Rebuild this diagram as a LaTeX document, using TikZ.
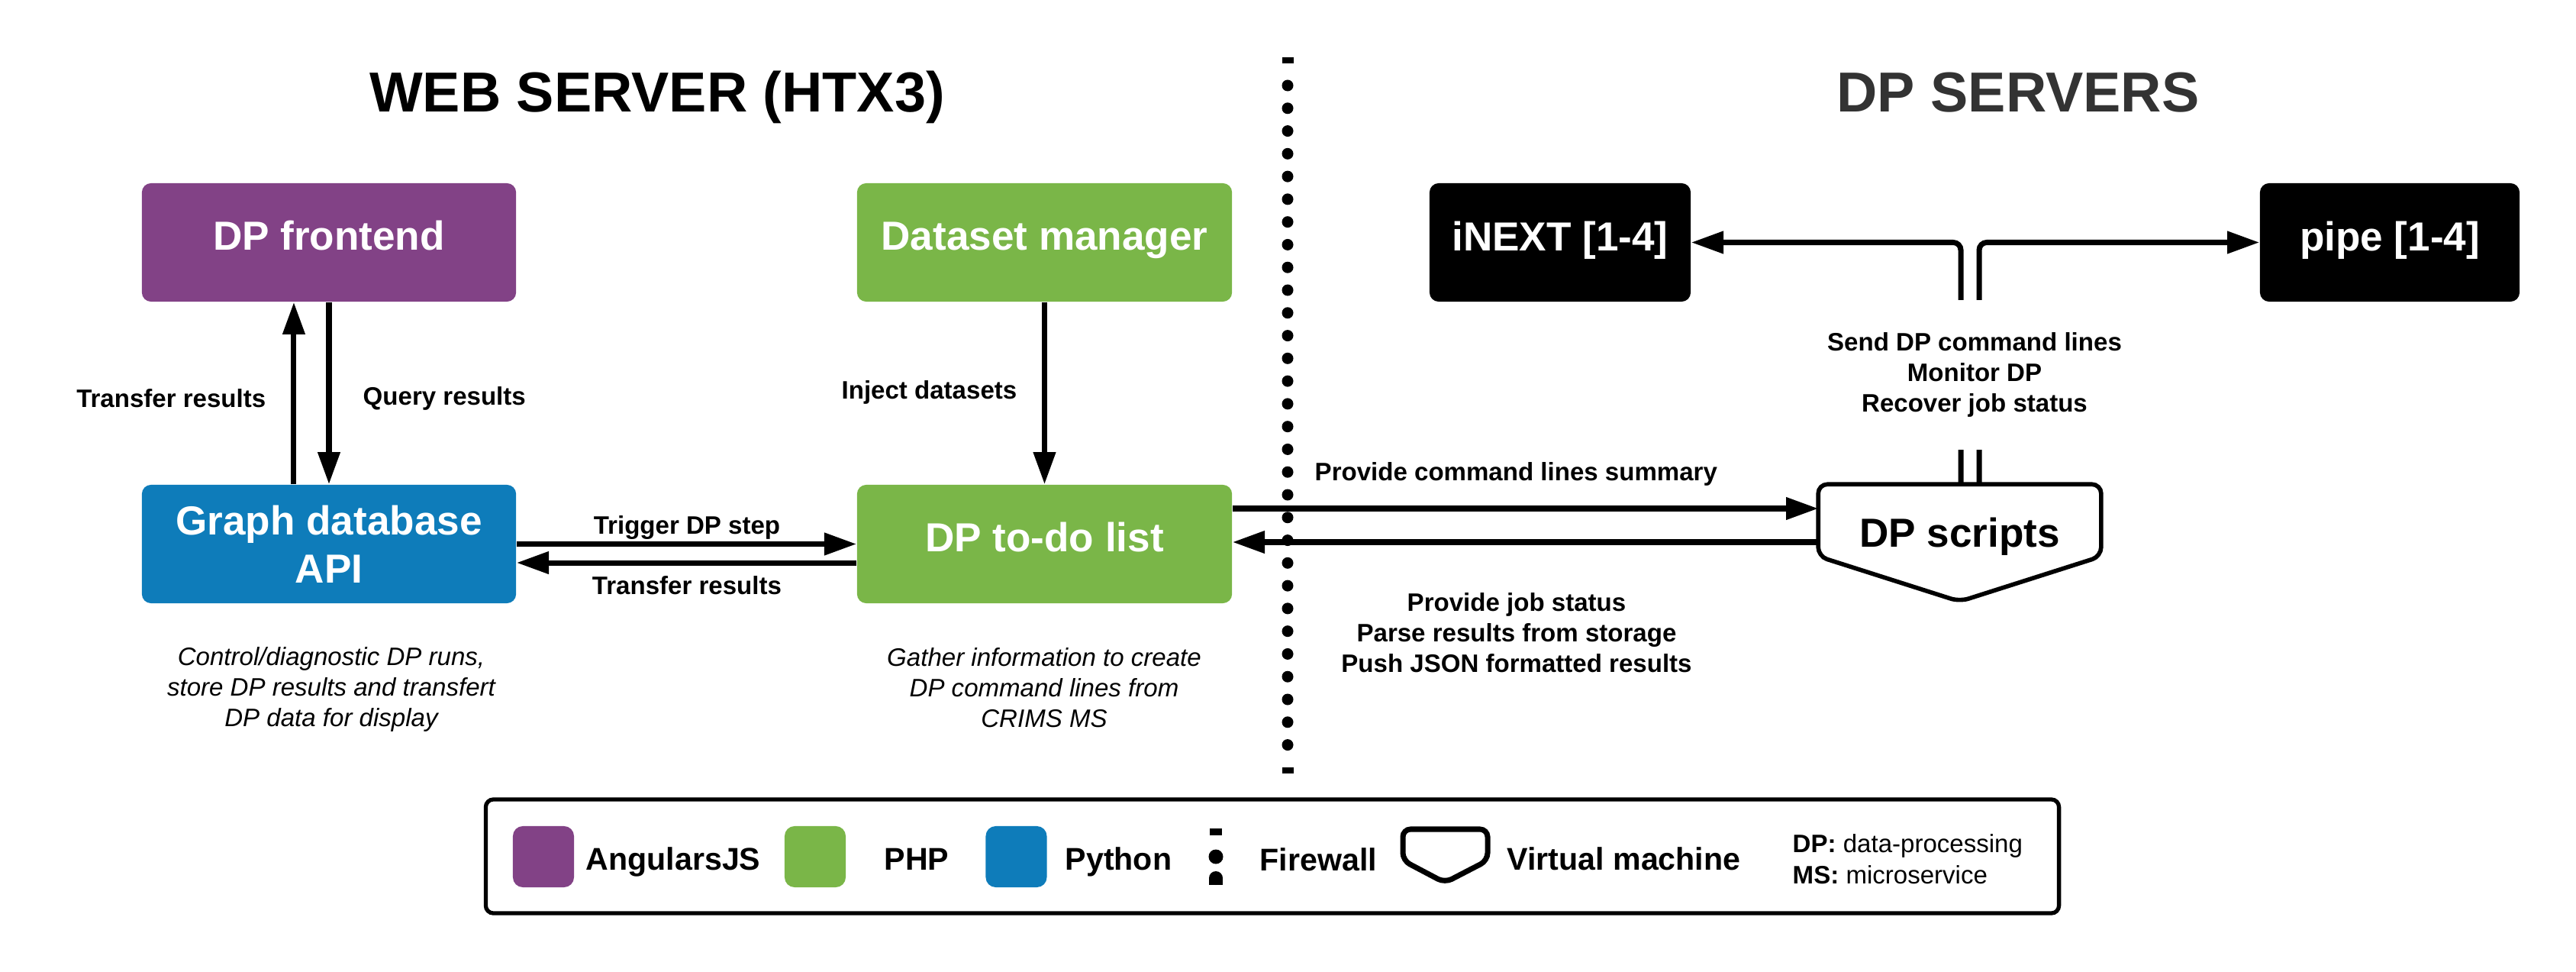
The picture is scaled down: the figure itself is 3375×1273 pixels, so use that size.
\documentclass[tikz,border=0pt]{standalone}
\usepackage{fontspec}
\setmainfont{Liberation Sans}
\usetikzlibrary{arrows.meta}
\definecolor{angpurple}{HTML}{824286}
\definecolor{phpgreen}{HTML}{7AB648}
\definecolor{pyblue}{HTML}{0E7CBA}
\definecolor{dpgray}{HTML}{333333}

\begin{document}
\begin{tikzpicture}[x=0.01cm, y=-0.01cm,
    box/.style={rounded corners=0.12cm, minimum height=1.55cm, text=white, align=center, font=\fontsize{15.1}{18}\selectfont\bfseries},
    arr/.style={line width=2pt, -{Triangle[length=12pt,width=8pt]}},
    lbl/.style={align=center, inner sep=0pt, font=\fontsize{9.4}{11.4}\selectfont\bfseries},
    note/.style={align=center, font=\fontsize{9.4}{11.4}\selectfont\itshape},
    title/.style={anchor=base, font=\fontsize{21}{25}\selectfont\bfseries},
    leg/.style={anchor=base west, inner sep=0pt, font=\fontsize{11.7}{14}\selectfont\bfseries},
    swatch/.style={rounded corners=0.13cm, minimum width=0.8cm, minimum height=0.8cm, inner sep=0pt}]
    \useasboundingbox (0,0) rectangle (3375,1273);

    \node[title] (webtitle) at (861,147) {WEB SERVER (HTX3)};
    \node[title, text=dpgray] (dptitle) at (2644,147) {DP SERVERS};

    \node[box, fill=angpurple, minimum width=4.9cm, text depth=0.55em] (front) at (431,317.5) {DP frontend};
    \node[box, fill=phpgreen, minimum width=4.91cm, text depth=0.45em] (dsm) at (1368.5,317.5) {Dataset manager};
    \node[box, fill=pyblue, minimum width=4.9cm, text depth=0pt] (gdb) at (431,712.5) {Graph database\\API};
    \node[box, fill=phpgreen, minimum width=4.91cm, text depth=0.55em] (todo) at (1368.5,712.5) {DP to-do list};
    \node[box, fill=black, minimum width=3.42cm, text depth=0.45em] (inext) at (2044,317.5) {iNEXT [1-4]};
    \node[box, fill=black, minimum width=3.4cm, text depth=0.45em] (pipe) at (3131,317.5) {pipe [1-4]};

    \node[minimum width=3.69cm, minimum height=0.93cm, inner sep=0pt] (scripts) at (2567.5,681.5) {};
    \draw[line width=1.6pt, fill=white, rounded corners=0.12cm] (scripts.north west) -- (scripts.north east) -- (scripts.south east) -- ([yshift=-0.59cm]scripts.south) -- (scripts.south west) -- cycle;
    \node[font=\fontsize{15.1}{18}\selectfont\bfseries] (scriptslbl) at ([yshift=-0.215cm]scripts.center) {DP scripts};

    % firewall
    \fill (1679.5,75) rectangle (1694.5,83);
    \draw[line width=0.15cm, line cap=round, dash pattern=on 0pt off 0.2976cm] (1687,112) -- (1687,1005);
    \fill (1679.5,1005) rectangle (1694.5,1013);

    \draw[arr] ([xshift=-0.46cm]gdb.north) -- ([xshift=-0.46cm]front.south);
    \draw[arr] (front.south) -- (gdb.north);
    \node[lbl, anchor=east] (uplbl) at (349,522) {Transfer results};
    \node[lbl, anchor=west] (querylbl) at (475,522) {Query results};

    \draw[arr] (dsm.south) -- (todo.north);
    \node[lbl, anchor=east] (injectlbl) at (1333,514) {Inject datasets};

    \draw[arr] (gdb.east) -- (todo.west);
    \draw[arr] ([yshift=-0.245cm]todo.west) -- ([yshift=-0.245cm]gdb.east);
    \node[lbl] (triggerlbl) at (900,691) {Trigger DP step};
    \node[lbl] (backlbl) at (900,767) {Transfer results};

    \draw[arr] (todo.east |- 0,666) -- (scripts.west |- 0,666);
    \draw[arr] (scripts.west |- 0,710) -- (todo.east |- 0,710);
    \node[lbl, anchor=west] (summarylbl) at (1722,621) {Provide command lines summary};
    \node[lbl] (statuslbl) at (1987,829) {Provide job status\\Parse results from storage\\Push JSON formatted results};

    \draw[arr, rounded corners=0.1cm] ([xshift=0.015cm]scripts.north) |- (inext.east);
    \draw[arr, rounded corners=0.1cm] ([xshift=0.255cm]scripts.north) |- (pipe.west);
    \node[lbl, fill=white, inner ysep=12pt] (sendlbl) at (2587,491) {Send DP command lines\\Monitor DP\\Recover job status};

    \node[note] (gdbnote) at (434,903) {Control/diagnostic DP runs,\\store DP results and transfert\\DP data for display};
    \node[note] (todonote) at (1368,901) {Gather information to create\\DP command lines from\\CRIMS MS};

    % legend
    \node[draw, line width=1.5pt, rounded corners=0.1cm, minimum width=20.6cm, minimum height=1.49cm] (legend) at (1667,1121.5) {};
    \node[swatch, fill=angpurple] (swang) at (712,1122) {};
    \node[leg] (angtxt) at (767,1139) {AngularsJS};
    \node[swatch, fill=phpgreen] (swphp) at (1068,1122) {};
    \node[leg] (phptxt) at (1158,1139) {PHP};
    \node[swatch, fill=pyblue] (swpy) at (1331.5,1122) {};
    \node[leg] (pytxt) at (1395,1139) {Python};
    \fill (1585,1085) rectangle (1601,1094);
    \fill (1593,1122) circle[radius=0.095cm];
    \fill (1593,1150) circle[radius=0.09cm];
    \fill (1584,1150) rectangle (1602,1159);
    \node[leg] (fwtxt) at (1650,1140) {Firewall};
    \draw[line width=2pt, rounded corners=0.1cm] (1838,1086) -- (1949,1086) -- (1949,1127) -- (1893,1156) -- (1838,1127) -- cycle;
    \node[leg] (vmtxt) at (1974,1139) {Virtual machine};
    \node[anchor=west, align=left, inner sep=0pt, font=\fontsize{9.4}{11.6}\selectfont] (abbrev) at (2348,1125) {\textbf{DP:} data-processing\\\textbf{MS:} microservice};
\end{tikzpicture}
\end{document}
